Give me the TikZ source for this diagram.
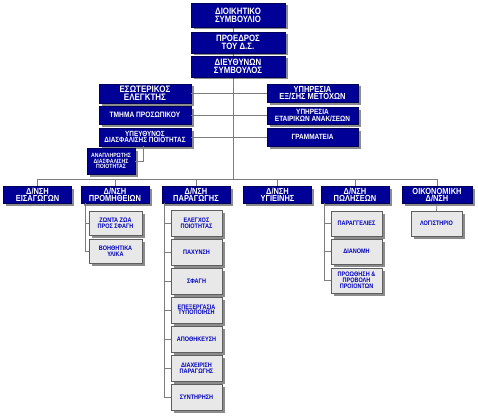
\documentclass[tikz,border=0pt]{standalone}
\usepackage{fontspec}
\setmainfont{Liberation Sans}[FakeStretch=0.85]
\usetikzlibrary{shadows}
\definecolor{navy}{RGB}{0,0,150}
\definecolor{navyedge}{RGB}{0,0,90}
\definecolor{boxgray}{RGB}{232,232,232}
\definecolor{edgegray}{RGB}{95,95,95}
\definecolor{gtext}{RGB}{0,0,190}
\definecolor{linegray}{RGB}{125,125,125}
\newcommand{\fs}[1]{\fontsize{#1}{\dimexpr #1pt*85/100\relax}\selectfont\bfseries}
\tikzset{
  sh/.style={drop shadow={shadow xshift=2.5pt,shadow yshift=-2.5pt,fill=black,opacity=0.45}},
  bbox/.style={sh,fill=navy,draw=navyedge,line width=0.4pt,text=white,align=center,inner sep=0pt},
  gbox/.style={sh,fill=boxgray,draw=edgegray,line width=0.5pt,text=gtext,align=center,inner sep=0pt,
     minimum width=51pt,font=\fs{6.5}},
  lvl/.style={bbox,minimum width=68pt,minimum height=17pt,font=\fs{8.8}},
  conn/.style={draw=linegray,line width=0.8pt},
}
\begin{document}
\begin{tikzpicture}[x=1pt,y=-1pt]
\useasboundingbox (0,0) rectangle (478,417);
\coordinate (spine) at (233,179);
\coordinate (busL) at (37.5,179);
\coordinate (busR) at (437,179);

\draw[conn] (233,15) -- (spine);
\draw[conn] (busL) -- (busR);

% top boxes
\node[bbox,minimum width=94pt,minimum height=24pt,font=\fs{9.2}] (ds) at (238,15) {ΔΙΟΙΚΗΤΙΚΟ\\ΣΥΜΒΟΥΛΙΟ};
\node[bbox,minimum width=94pt,minimum height=21pt,font=\fs{9.2}] (pr) at (238,42.5) {ΠΡΟΕΔΡΟΣ\\ΤΟΥ Δ.Σ.};
\node[bbox,minimum width=94pt,minimum height=21pt,font=\fs{9.2}] (dir) at (238,66.5) {ΔΙΕΥΘΥΝΩΝ\\ΣΥΜΒΟΥΛΟΣ};

% left staff group
\node[bbox,minimum width=92pt,minimum height=19pt,font=\fs{9.4}] (esw) at (145,93.5) {ΕΣΩΤΕΡΙΚΟΣ\\ΕΛΕΓΚΤΗΣ};
\node[bbox,minimum width=92pt,minimum height=18pt,font=\fs{7.8}] (tmp) at (145,115) {ΤΜΗΜΑ ΠΡΟΣΩΠΙΚΟΥ};
\node[bbox,minimum width=92pt,minimum height=18pt,font=\fs{7.5}] (ypd) at (145,137) {ΥΠΕΥΘΥΝΟΣ\\ΔΙΑΣΦΑΛΙΣΗΣ ΠΟΙΟΤΗΤΑΣ};
\node[bbox,minimum width=48pt,minimum height=26pt,font=\fs{6.1}] (anp) at (111,161) {ΑΝΑΠΛΗΡΩΤΗΣ\\ΔΙΑΣΦΑΛΙΣΗΣ\\ΠΟΙΟΤΗΤΑΣ};

% right staff group
\node[bbox,minimum width=91pt,minimum height=18pt,font=\fs{8.8}] (ypm) at (312.5,93) {ΥΠΗΡΕΣΙΑ\\ΕΞ/ΣΗΣ ΜΕΤΟΧΩΝ};
\node[bbox,minimum width=91pt,minimum height=17pt,font=\fs{7.6}] (ype) at (312.5,115.5) {ΥΠΗΡΕΣΙΑ\\ΕΤΑΙΡΙΚΩΝ ΑΝΑΚ/ΣΕΩΝ};
\node[bbox,minimum width=91pt,minimum height=18pt,font=\fs{7.6}] (gra) at (312.5,137) {ΓΡΑΜΜΑΤΕΙΑ};

% staff connectors
\draw[conn] (esw.east) -- (esw.east -| spine);
\draw[conn] (tmp.east) -- (tmp.east -| spine);
\draw[conn] (ypd.east) -- (ypd.east -| spine);
\draw[conn] (ypm.west) -- (ypm.west -| spine);
\draw[conn] (ype.west) -- (ype.west -| spine);
\draw[conn] (gra.west) -- (gra.west -| spine);
\draw[conn] (ypd.south -| 143,0) |- (anp.east);

% second level
\node[lvl] (eis) at (37.5,195) {Δ/ΝΣΗ\\ΕΙΣΑΓΩΓΩΝ};
\node[lvl] (prom) at (115,195) {Δ/ΝΣΗ\\ΠΡΟΜΗΘΕΙΩΝ};
\node[lvl] (par) at (196,195) {Δ/ΝΣΗ\\ΠΑΡΑΓΩΓΗΣ};
\node[lvl] (ygi) at (277.5,195) {Δ/ΝΣΗ\\ΥΓΙΕΙΝΗΣ};
\node[lvl] (pol) at (355,195) {Δ/ΝΣΗ\\ΠΩΛΗΣΕΩΝ};
\node[lvl,minimum width=70pt] (oik) at (437,195) {ΟΙΚΟΝΟΜΙΚΗ\\Δ/ΝΣΗ};
\foreach \n in {eis,prom,par,ygi,pol,oik}{
  \draw[conn] (\n.north) -- (\n.north |- busL);
}

% sub units of ΠΡΟΜΗΘΕΙΩΝ
\coordinate (pv) at (85,203);
\node[gbox,minimum width=53pt,minimum height=24pt] (p1) at (115.5,223) {ΖΩΝΤΑ ΖΩΑ\\ΠΡΟΣ ΣΦΑΓΗ};
\node[gbox,minimum width=53pt,minimum height=24pt] (p2) at (115.5,251) {ΒΟΗΘΗΤΙΚΑ\\ΥΛΙΚΑ};
\draw[conn] (pv) -- (pv |- p2.west) -- (p2.west);
\draw[conn] (pv |- p1.west) -- (p1.west);

% sub units of ΠΑΡΑΓΩΓΗΣ
\coordinate (rv) at (164,203);
\node[gbox,minimum height=26pt] (r1) at (196.5,223) {ΕΛΕΓΧΟΣ\\ΠΟΙΟΤΗΤΑΣ};
\node[gbox,minimum height=26pt] (r2) at (196.5,252) {ΠΑΧΥΝΣΗ};
\node[gbox,minimum height=26pt] (r3) at (196.5,281) {ΣΦΑΓΗ};
\node[gbox,minimum height=26pt] (r4) at (196.5,310) {ΕΠΕΞΕΡΓΑΣΙΑ\\ΤΥΠΟΠΟΙΗΣΗ};
\node[gbox,minimum height=26pt] (r5) at (196.5,339) {ΑΠΟΘΗΚΕΥΣΗ};
\node[gbox,minimum height=26pt] (r6) at (196.5,368) {ΔΙΑΧΕΙΡΙΣΗ\\ΠΑΡΑΓΩΓΗΣ};
\node[gbox,minimum height=26pt] (r7) at (196.5,397) {ΣΥΝΤΗΡΗΣΗ};
\draw[conn] (rv) -- (rv |- r7.west) -- (r7.west);
\foreach \n in {r1,r2,r3,r4,r5,r6}{ \draw[conn] (rv |- \n.west) -- (\n.west); }

% sub units of ΠΩΛΗΣΕΩΝ
\coordinate (sv) at (324,203);
\node[gbox,minimum height=25pt] (s1) at (356.5,223.5) {ΠΑΡΑΓΓΕΛΙΕΣ};
\node[gbox,minimum height=25pt] (s2) at (356.5,251.5) {ΔΙΑΝΟΜΗ};
\node[gbox,minimum height=25pt] (s3) at (356.5,280.5) {ΠΡΟΩΘΗΣΗ \&\\ΠΡΟΒΟΛΗ\\ΠΡΟΪΟΝΤΩΝ};
\draw[conn] (sv) -- (sv |- s3.west) -- (s3.west);
\foreach \n in {s1,s2}{ \draw[conn] (sv |- \n.west) -- (\n.west); }

% ΟΙΚΟΝΟΜΙΚΗ sub unit
\node[gbox,minimum height=25pt] (log) at (436.5,223.5) {ΛΟΓΙΣΤΗΡΙΟ};
\draw[conn] (oik.south) -- (log.north);
\end{tikzpicture}
\end{document}
